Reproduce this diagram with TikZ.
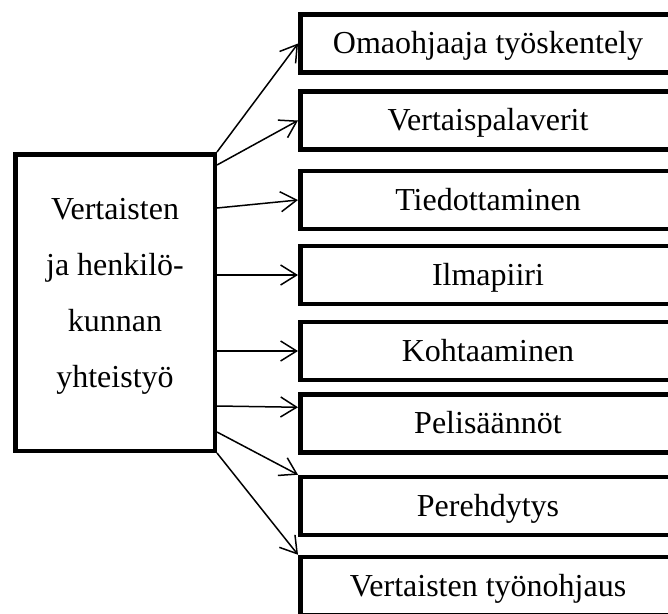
\documentclass[tikz,border=0pt]{standalone}
\usepackage{fontspec}
\setmainfont{Liberation Serif}
\usepackage{tikz}
\usetikzlibrary{arrows.meta}

\tikzset{
    laatikko/.style={draw, line width=4.5pt, minimum width=375.5pt, minimum height=58pt, inner sep=0pt,
      font=\fontsize{32}{38}\selectfont, text height=22pt, text depth=2pt},
    nuoli/.style={-{Straight Barb[length=16pt,width=20pt]}, line width=1.5pt}
}

\begin{document}
\begin{tikzpicture}[x=1pt,y=-1pt]

    \useasboundingbox (0,0) rectangle (668,613);

    % keskimmainen laatikko
    \node[draw, line width=4.5pt, minimum width=199.5pt, minimum height=296.5pt, inner sep=0pt,
      align=center, font=\fontsize{32}{56}\selectfont, text depth=20pt] (keski) at (115,302.5)
      {Vertaisten\\ja henkilö-\\kunnan\\yhteistyö};

    \node[laatikko] (osa1) at (488,43.5) {Omaohjaaja työskentely};
    \node[laatikko] (osa2) at (488,120.5) {Vertaispalaverit};
    \node[laatikko] (osa3) at (488,200) {Tiedottaminen};
    \node[laatikko] (osa4) at (488,275) {Ilmapiiri};
    \node[laatikko] (osa5) at (488,351) {Kohtaaminen};
    \node[laatikko] (osa6) at (488,423.5) {Pelisäännöt};
    \node[laatikko] (osa7) at (488,506) {Perehdytys};
    \node[laatikko] (osa8) at (488,586) {Vertaisten työnohjaus};

    % nuolet
    \draw[nuoli] (keski.north east) -- (osa1.west);
    \draw[nuoli] ([yshift=-13pt]keski.north east) -- (osa2.west);
    \draw[nuoli] ([yshift=-56pt]keski.north east) -- (osa3.west);
    \draw[nuoli] ([yshift=-123pt]keski.north east) -- (osa4.west);
    \draw[nuoli] ([yshift=-199pt]keski.north east) -- (osa5.west);
    \draw[nuoli] ([yshift=-254pt]keski.north east) -- ([yshift=-15pt]osa6.north west);
    \draw[nuoli] ([yshift=-280pt]keski.north east) -- (osa7.north west);
    \draw[nuoli] (keski.south east) -- (osa8.north west);

\end{tikzpicture}
\end{document}
